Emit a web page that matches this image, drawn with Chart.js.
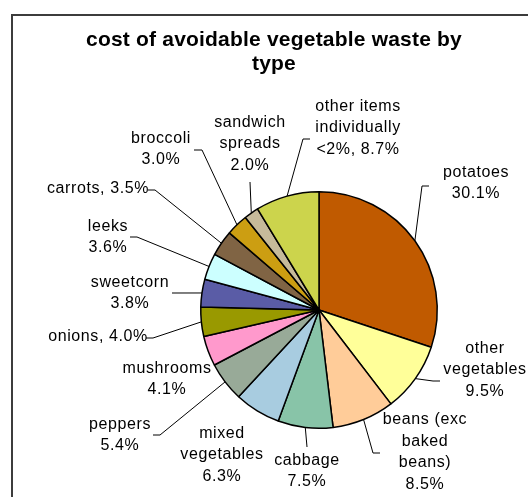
<!DOCTYPE html>
<html>
<head>
<meta charset="utf-8">
<script src="https://cdn.jsdelivr.net/npm/chart.js@4"></script>
<style>
    html, body { margin: 0; padding: 0; background: #fff; }
    #wrap { position: relative; width: 528px; height: 497px; overflow: hidden; }
    #frame {
        position: absolute; left: 11px; top: 14px; width: 600px; height: 600px;
        border-top: 2px solid #3c3c3c; border-left: 2px solid #3c3c3c;
    }
    #title {
        position: absolute; left: 14px; width: 520px; top: 27px;
        text-align: center; font: bold 21px "Liberation Sans", Arial, sans-serif;
        letter-spacing: 0.2px; line-height: 24px; color: #000;
    }
    #chartBox { position: absolute; left: 0; top: 0; width: 528px; height: 497px; }
</style>
</head>
<body>
<div id="wrap">
    <div id="frame"></div>
    <div id="chartBox"><canvas id="wasteChart"></canvas></div>
    <div id="title">cost of avoidable vegetable waste by<br>type</div>
</div>
<script>
// Chart data
const categories = [
    'potatoes', 'other vegetables', 'beans (exc baked beans)', 'cabbage',
    'mixed vegetables', 'peppers', 'mushrooms', 'onions', 'sweetcorn',
    'leeks', 'carrots', 'broccoli', 'sandwich spreads', 'other items individually <2%'
];
const values = [30.1, 9.5, 8.5, 7.5, 6.3, 5.4, 4.1, 4.0, 3.8, 3.6, 3.5, 3.0, 2.0, 8.7];
const sliceColors = [
    '#C05A00', '#FFFF99', '#FFCC99', '#88C4A8', '#A8CCE0', '#98AA98', '#FF99CC',
    '#999900', '#5A5CA6', '#CCFFFF', '#806444', '#CC9E12', '#C6BA9A', '#CCD44C'
];
// How each label is broken into lines ({v} = the value)
const labelLines = [
    ['potatoes', '{v}'],
    ['other', 'vegetables', '{v}'],
    ['beans (exc', 'baked', 'beans)', '{v}'],
    ['cabbage', '{v}'],
    ['mixed', 'vegetables', '{v}'],
    ['peppers', '{v}'],
    ['mushrooms', '{v}'],
    ['onions, {v}'],
    ['sweetcorn', '{v}'],
    ['leeks', '{v}'],
    ['carrots, {v}'],
    ['broccoli', '{v}'],
    ['sandwich', 'spreads', '{v}'],
    ['other items', 'individually', '<2%, {v}']
];

// Label placement relative to pie centre: text centre (tx, ty),
// leader elbow (ex, ey) and a short horizontal tail (null = no leader)
const labelLayout = [
    { tx: 157, ty: -127, ex: 103, ey: -124, tail: 7 },
    { tx: 166, ty: 60, ex: 114, ey: 71, tail: 7 },
    { tx: 106, ty: 142, ex: 54, ey: 143, tail: 7 },
    { tx: -12, ty: 161, ex: -12, ey: 137, tail: 0 },
    { tx: -97, ty: 145, ex: null },
    { tx: -199, ty: 125, ex: -159, ey: 125, tail: -7 },
    { tx: -152, ty: 69, ex: null },
    { tx: -221, ty: 27, ex: -166, ey: 28, tail: -7 },
    { tx: -189, ty: -17, ex: -147, ey: -17, tail: 0 },
    { tx: -211, ty: -73, ex: -182, ey: -73, tail: -7 },
    { tx: -221, ty: -121, ex: -164, ey: -120, tail: -7 },
    { tx: -158, ty: -161, ex: -117, ey: -160, tail: -8 },
    { tx: -69, ty: -166, ex: -69, ey: -128, tail: 0 },
    { tx: 39, ty: -182, ex: -16, ey: -171, tail: 7 }
];

const LABEL_FONT = '16px "Liberation Sans", Arial, sans-serif';
const LINE_H = 21.5;

// Draws outside labels with leader lines
const outsideLabels = {
    id: 'outsideLabels',
    afterDatasetsDraw(chart) {
        const ctx = chart.ctx;
        const meta = chart.getDatasetMeta(0);
        ctx.save();
        ctx.font = LABEL_FONT;
        try { ctx.letterSpacing = '0.6px'; } catch (e) {}
        ctx.fillStyle = '#000';
        ctx.strokeStyle = '#000';
        ctx.lineWidth = 1;
        ctx.textAlign = 'center';
        ctx.textBaseline = 'middle';

        meta.data.forEach((arc, i) => {
            const p = arc.getProps(['x', 'y', 'startAngle', 'endAngle', 'outerRadius'], true);
            const mid = (p.startAngle + p.endAngle) / 2;
            const lay = labelLayout[i];

            if (lay.ex !== null) {
                const sx = p.x + Math.cos(mid) * p.outerRadius;
                const sy = p.y + Math.sin(mid) * p.outerRadius;
                const ex = p.x + lay.ex;
                const ey = p.y + lay.ey;
                ctx.beginPath();
                ctx.moveTo(sx, sy);
                ctx.lineTo(ex, ey);
                if (lay.tail) ctx.lineTo(ex + lay.tail, ey);
                ctx.stroke();
            }

            const txt = values[i].toFixed(1) + '%';
            const lines = labelLines[i].map(l => l.replace('{v}', txt));
            const top = p.y + lay.ty - (lines.length - 1) * LINE_H / 2;
            lines.forEach((l, k) => {
                ctx.fillText(l, p.x + lay.tx, top + k * LINE_H);
            });
        });
        ctx.restore();
    }
};

const ctx = document.getElementById('wasteChart').getContext('2d');
new Chart(ctx, {
    type: 'pie',
    data: {
        labels: categories,
        datasets: [{
            data: values,
            backgroundColor: sliceColors,
            borderColor: '#000',
            borderWidth: 1.5
        }]
    },
    options: {
        responsive: true,
        maintainAspectRatio: false,
        animation: false,
        layout: { padding: { left: 200, right: 90, top: 191, bottom: 68 } },
        plugins: {
            legend: { display: false },
            tooltip: { enabled: false },
            title: { display: false }
        }
    },
    plugins: [outsideLabels]
});
</script>
</body>
</html>
